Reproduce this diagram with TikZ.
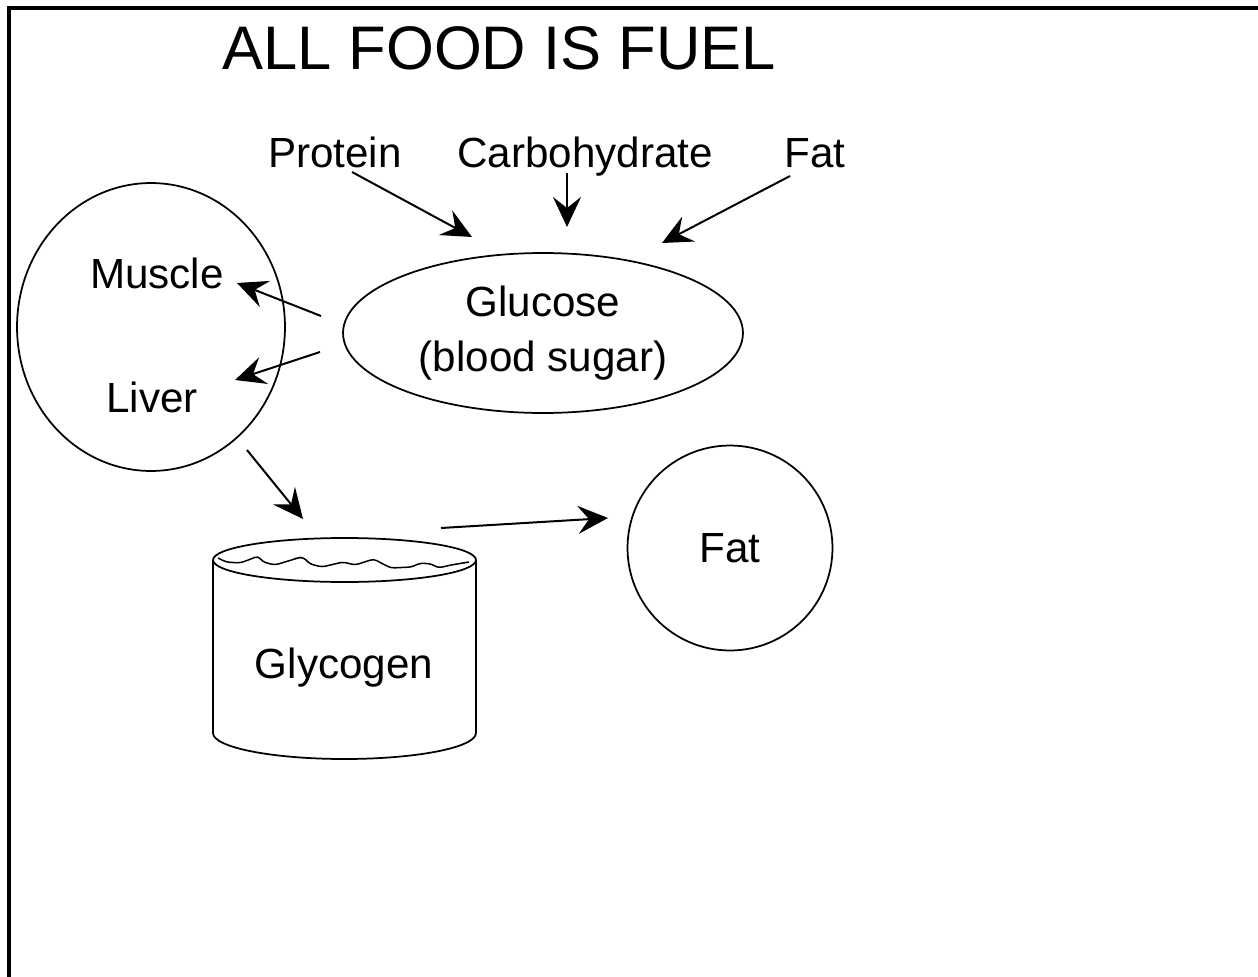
\documentclass[tikz,border=0pt]{standalone}
\usepackage{fontspec}
\setmainfont{Liberation Sans}
\usetikzlibrary{arrows.meta,shapes.geometric}

\begin{document}
\begin{tikzpicture}[x=0.02cm, y=-0.02cm,
  font=\fontsize{24}{31}\selectfont,
  txt/.style={anchor=base, inner sep=0pt},
  organ/.style={draw, line width=0.035cm, ellipse, inner sep=0pt},
  arr/.style={-{Stealth[length=0.6cm, width=0.56cm, inset=0.22cm]},
              line width=0.04cm}]
\useasboundingbox (0,0) rectangle (1258,977);
\draw[line width=0.08cm] (9,977) -- (9,8) -- (1258,8);
% title and sources
\node[txt, font=\fontsize{35}{42}\selectfont] (title) at (499,70) {ALL FOOD IS FUEL};
\node[txt] (protein) at (335,167) {Protein};
\node[txt] (carb) at (585,167) {Carbohydrate};
\node[txt] (fatin) at (815,167) {Fat};
% shapes
\node[organ, minimum width=5.36cm, minimum height=5.76cm] (cell) at (151,327) {};
\node[txt] (muscle) at (157,288) {Muscle};
\node[txt] (liver) at (152,412) {Liver};
\node[organ, minimum width=8cm, minimum height=3.2cm, align=center] (glucose)
  at (543,333) {Glucose\\(blood sugar)};
\node[organ, circle, minimum size=4.1cm] (fat) at (730,548) {Fat};
% glycogen store
\draw[line width=0.035cm] (344.5,560) ellipse [x radius=2.63cm, y radius=0.44cm];
\draw[line width=0.035cm] (213,560) -- (213,733)
  arc[start angle=180, end angle=360, x radius=2.63cm, y radius=0.52cm] -- (476,560);
\draw[line width=0.03cm, rounded corners=2pt] (218,558) -- (226,562) -- (240,563)
  -- (251,559) -- (258,556) -- (263,562) -- (275,565) -- (298,558) -- (303,557)
  -- (310,564) -- (322,567) -- (343,562) -- (355,565) -- (374,559) -- (381,563)
  -- (391,568) -- (412,567) -- (420,563) -- (432,564) -- (438,568) -- (451,565)
  -- (469,562);
\node[txt] (glycogen) at (344,678) {Glycogen};
% arrow ends
\coordinate (pro-out) at (352,172);
\coordinate (pro-in) at (472,237);
\coordinate (carb-out) at (567,173);
\coordinate (carb-in) at (567,227);
\coordinate (fat-out) at (790,176);
\coordinate (fat-in) at (662,243);
\coordinate (glu-m) at (321,316);
\coordinate (glu-l) at (320,352);
\coordinate (mus-in) at (237,283);
\coordinate (liv-in) at (235,380);
\coordinate (liv-out) at (247,450);
\coordinate (gly-in) at (303,519);
\coordinate (gly-out) at (441,528);
\coordinate (fatc-in) at (608,518);
\draw[arr] (pro-out) -- (pro-in);
\draw[arr] (carb-out) -- (carb-in);
\draw[arr] (fat-out) -- (fat-in);
\draw[arr] (glu-m) -- (mus-in);
\draw[arr] (glu-l) -- (liv-in);
\draw[arr] (liv-out) -- (gly-in);
\draw[arr] (gly-out) -- (fatc-in);
\end{tikzpicture}
\end{document}
